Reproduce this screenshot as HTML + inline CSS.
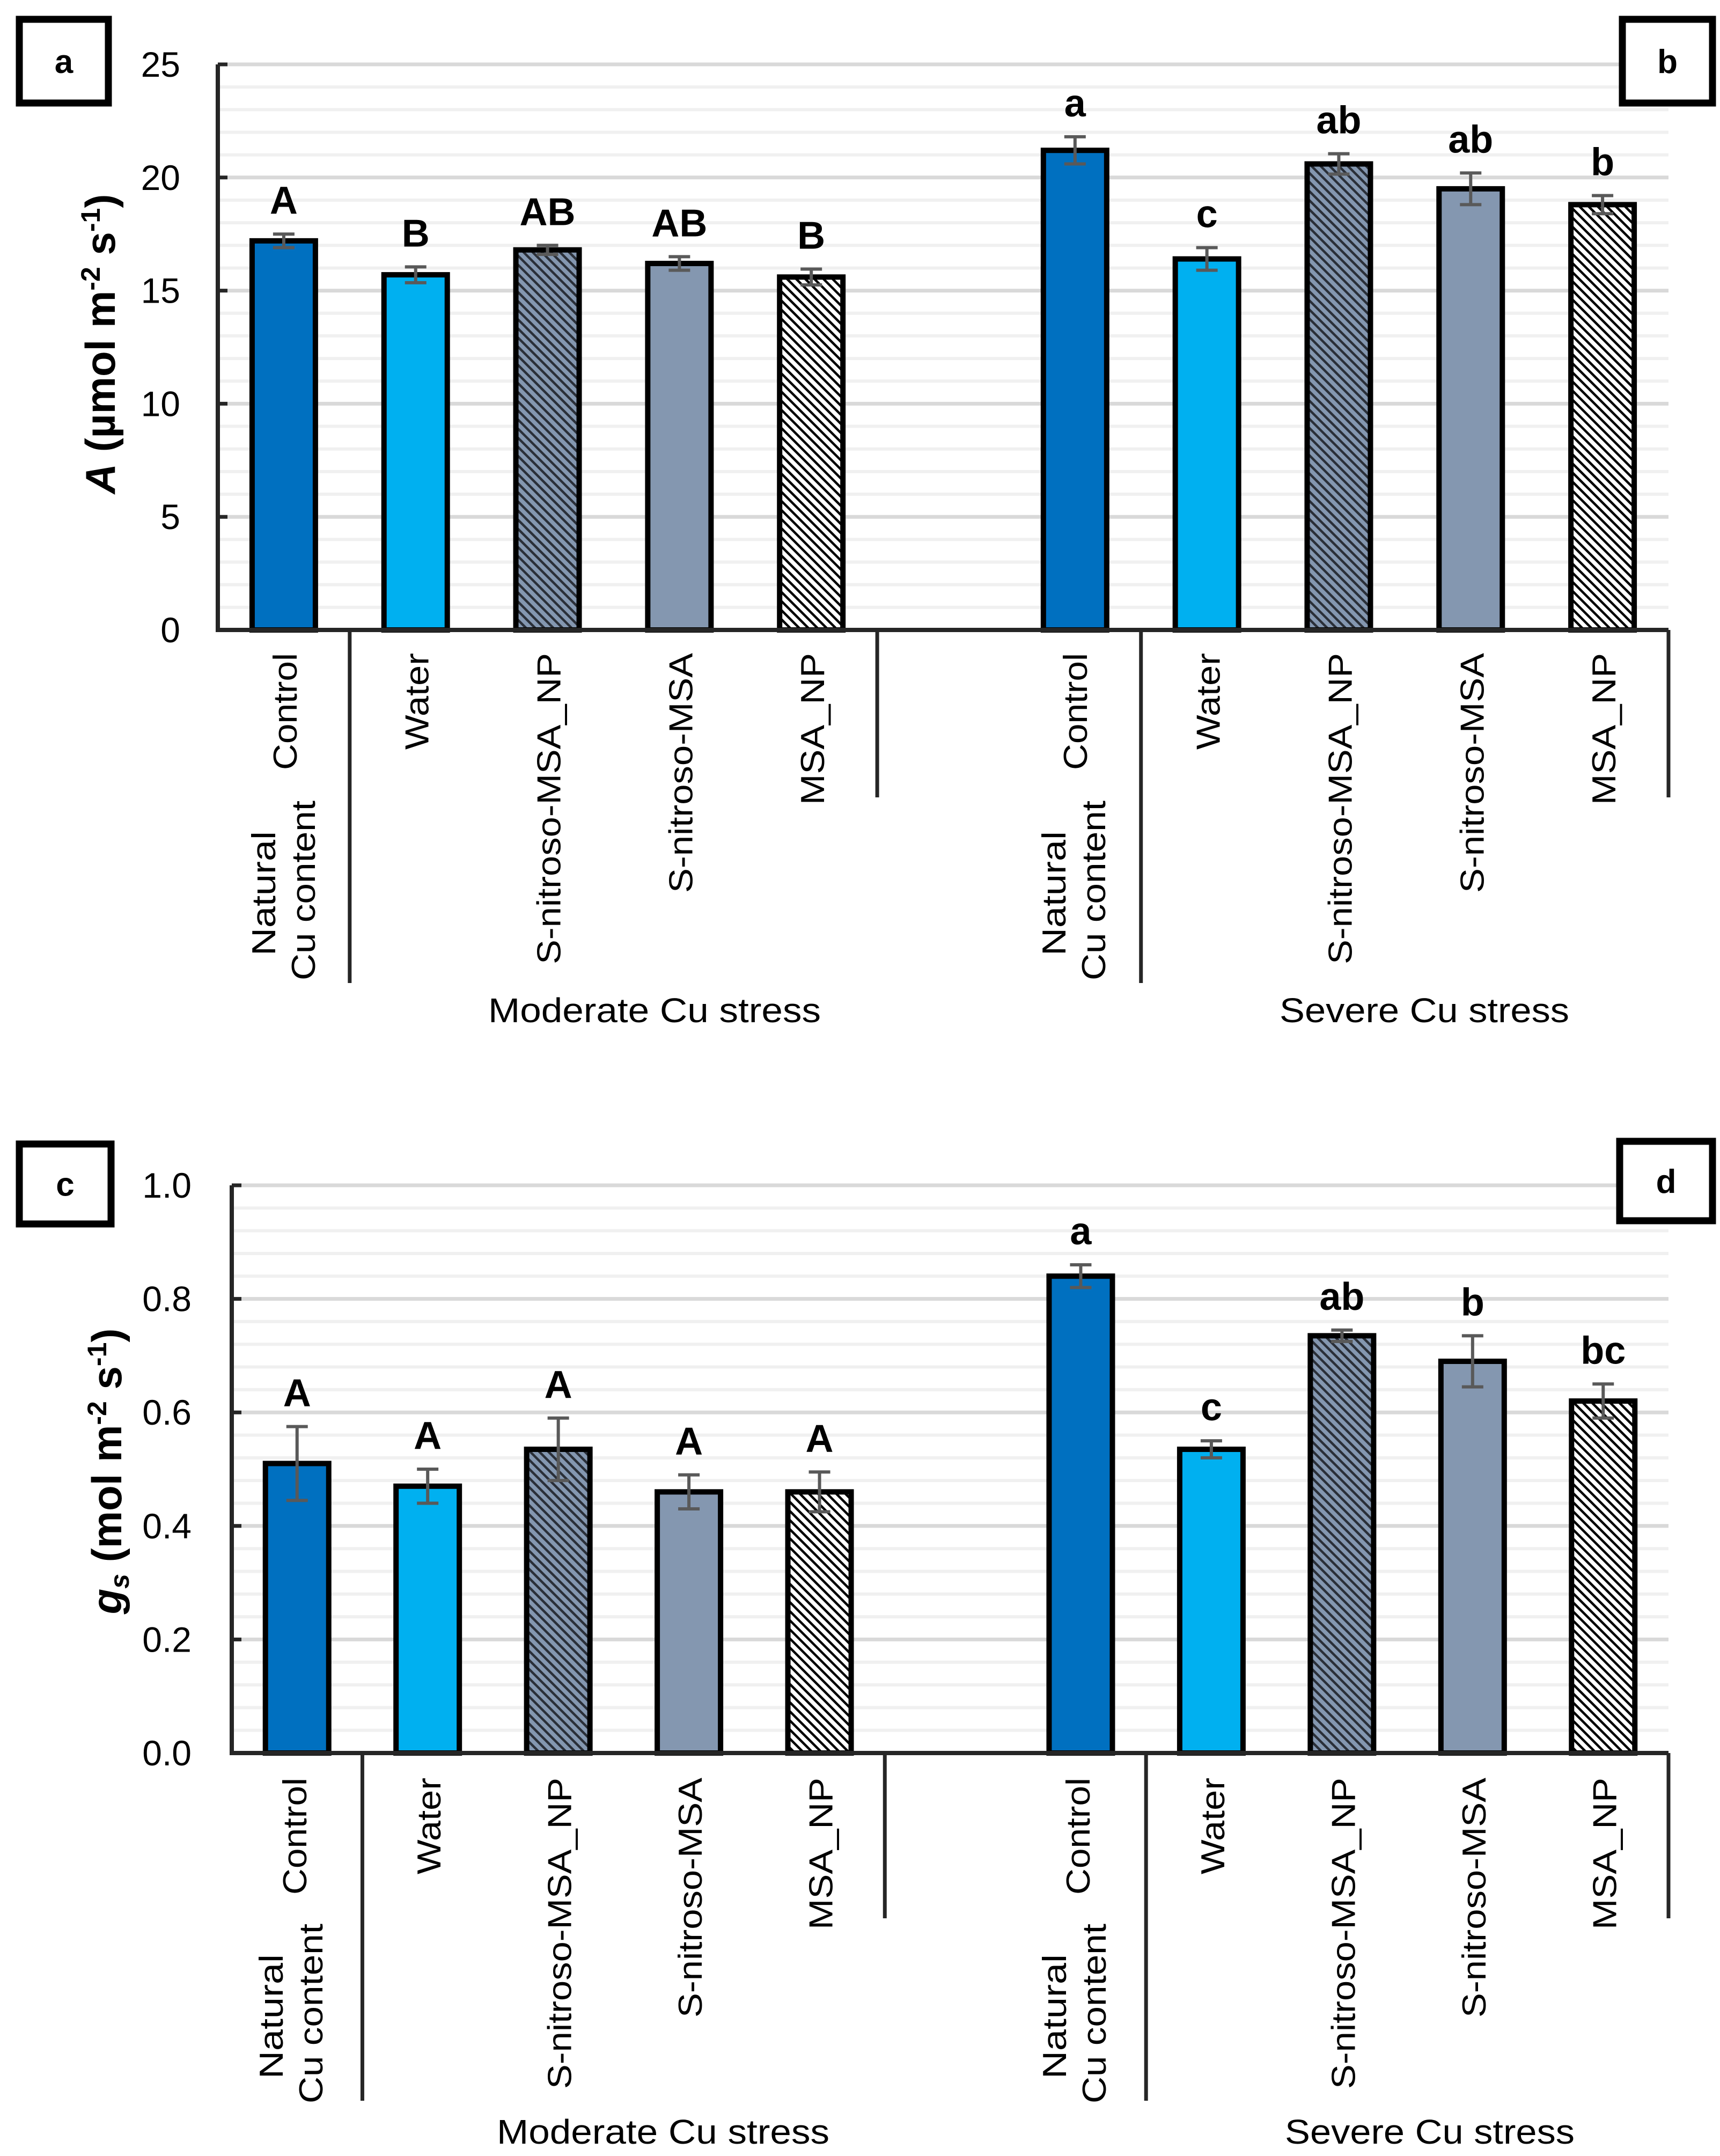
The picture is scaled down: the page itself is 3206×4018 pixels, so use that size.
<!DOCTYPE html>
<html><head><meta charset="utf-8"><style>
html,body{margin:0;padding:0;background:#fff;}
svg{display:block;}
text{font-family:"Liberation Sans",Arial,sans-serif;}
</style></head><body>
<svg id="fig" xmlns="http://www.w3.org/2000/svg" width="3206" height="4018" viewBox="0 0 3206 4018">
<defs>
<pattern id="hatchDark" patternUnits="userSpaceOnUse" width="12" height="12" patternTransform="rotate(45)">
<rect width="12" height="12" fill="#8497B0"/><rect x="0" y="0" width="12" height="4.5" fill="#2a2f38"/>
</pattern>
<pattern id="hatchWhite" patternUnits="userSpaceOnUse" width="12" height="12" patternTransform="rotate(45)">
<rect width="12" height="12" fill="#fff"/><rect x="0" y="0" width="12" height="4.5" fill="#000"/>
</pattern>
</defs>
</svg>
<script>
const categories = ["Control","Water","S-nitroso-MSA_NP","S-nitroso-MSA","MSA_NP"];
const groups = ["Moderate Cu stress","Severe Cu stress"];
const aModerate = [17.2,15.7,16.8,16.2,15.6];
const aModerateErr = [0.3,0.35,0.2,0.3,0.35];
const aSevere = [21.2,16.4,20.6,19.5,18.8];
const aSevereErr = [0.6,0.5,0.45,0.7,0.4];
const aLettersModerate = ["A","B","AB","AB","B"];
const aLettersSevere = ["a","c","ab","ab","b"];
const aTicks = ["0","5","10","15","20","25"];
const gModerate = [0.51,0.47,0.535,0.46,0.46];
const gModerateErr = [0.065,0.03,0.055,0.03,0.035];
const gSevere = [0.84,0.535,0.735,0.69,0.62];
const gSevereErr = [0.02,0.015,0.01,0.045,0.03];
const gLettersModerate = ["A","A","A","A","A"];
const gLettersSevere = ["a","c","ab","b","bc"];
const gTicks = ["0.0","0.2","0.4","0.6","0.8","1.0"];

const NS="http://www.w3.org/2000/svg";
const svg=document.getElementById('fig');
const fills=["#0070C0","#00B0F0","url(#hatchDark)","#8497B0","url(#hatchWhite)"];
function mk(tag,attrs,parent){const e=document.createElementNS(NS,tag);for(const k in attrs)e.setAttribute(k,attrs[k]);(parent||svg).appendChild(e);return e;}

function chart(o){
  const g=mk('g',{});
  
  
  const band=(o.x1-o.x0)/11;
  const y=v=>o.yZero-(v/o.max)*(o.yZero-o.yTop);
  const nMinor=Math.round(o.max/o.minor);
  for(let i=1;i<=nMinor;i++){
    const v=i*o.minor; const isMajor=Math.abs(v/o.major-Math.round(v/o.major))<1e-6;
    const l=mk('line',{x1:o.x0,x2:o.x1,y1:y(v),y2:y(v),stroke:isMajor?'#d9d9d9':'#f0f0f0','stroke-width':isMajor?7:6},g);
    
    
  }
  o.ticks.forEach((t,i)=>{
    const v=i*o.major;
    const tk=mk('line',{x1:o.x0,x2:o.x0+18,y1:y(v),y2:y(v),stroke:'#262626','stroke-width':7},g);
    
    
    const tx=mk('text',{x:o.tickX,y:y(v)+23,'font-size':66,'text-anchor':'end',fill:'#000'},g);
    tx.textContent=t;
    
    
  });
  const all=[[o.mod,o.modErr,o.modL,0],[o.sev,o.sevErr,o.sevL,6]];
  all.forEach(([vals,errs,lets,off],gi)=>{
    vals.forEach((v,i)=>{
      const cx=o.x0+band*(off+i+0.5); const w=118;
      const r=mk('rect',{x:cx-w/2,y:y(v),width:w,height:o.yZero-y(v),fill:fills[i],stroke:'#000','stroke-width':10},g);
      
      
      const e=errs[i];
      const eb=mk('path',{d:`M${cx},${y(v+e)}V${y(v-e)}M${cx-20},${y(v+e)}h40M${cx-20},${y(v-e)}h40`,stroke:'#595959','stroke-width':6,fill:'none'},g);
      
      
      const lt=mk('text',{x:cx,y:y(v+e)-38,'font-size':72,'font-weight':'bold','text-anchor':'middle'},g);
      lt.textContent=lets[i];
      
      
      const lx=cx+24;
      const lab=mk('text',{x:0,y:0,'font-size':62,'text-anchor':'end',transform:`translate(${i===0?o.ctrlX+(gi?o.sevShift:0):lx},${o.labTop}) rotate(-90)`,textLength:o.lens[i],lengthAdjust:'spacingAndGlyphs'},g);
      lab.textContent=categories[i];
      
      
      if(i===0){
        const nx=o.natX+(gi?o.sevShift:0);
        const n1=mk('text',{x:0,y:0,'font-size':62,'text-anchor':'start',transform:`translate(${nx},${o.natBot}) rotate(-90)`,textLength:232,lengthAdjust:'spacingAndGlyphs'},g);
        n1.textContent='Natural';
        
        
        const n2=mk('text',{x:0,y:0,'font-size':62,'text-anchor':'start',transform:`translate(${nx+74},${o.natBot+46}) rotate(-90)`,textLength:335,lengthAdjust:'spacingAndGlyphs'},g);
        n2.textContent='Cu content';
        
        
      }
    });
  });
  const ya=mk('line',{x1:o.x0,x2:o.x0,y1:o.yTop,y2:o.yZero,stroke:'#262626','stroke-width':8},g);
  
  
  const xa=mk('line',{x1:o.x0-4,x2:o.x1,y1:o.yZero,y2:o.yZero,stroke:'#262626','stroke-width':8},g);
  
  
  [[1,o.longY],[5,o.shortY],[7,o.longY],[11,o.shortY]].forEach(([k,yb])=>{
    const s=mk('line',{x1:o.x0+band*k,x2:o.x0+band*k,y1:o.yZero,y2:yb,stroke:'#262626','stroke-width':7},g);
    
    
  });
  groups.forEach((t,i)=>{
    const gt=mk('text',{x:o.grpX[i],y:o.grpY,'font-size':64,'text-anchor':'middle',textLength:i?540:620,lengthAdjust:'spacingAndGlyphs'},g);
    gt.textContent=t;
    
    
  });
}

chart({name:'chart-a-photosynthesis',x0:406,x1:3110,yTop:120,yZero:1174,max:25,major:5,minor:1,ticks:aTicks,tickX:336,
  mod:aModerate,modErr:aModerateErr,modL:aLettersModerate,sev:aSevere,sevErr:aSevereErr,sevL:aLettersSevere,
  labTop:1217,lens:[218,180,580,447,283],ctrlX:553,natX:513,natBot:1781,sevShift:1473,
  longY:1832,shortY:1486,grpX:[1220,2655],grpY:1905});
chart({name:'chart-c-stomatal-conductance',x0:432,x1:3110,yTop:2209,yZero:3267,max:1,major:0.2,minor:0.04,ticks:gTicks,tickX:357,
  mod:gModerate,modErr:gModerateErr,modL:gLettersModerate,sev:gSevere,sevErr:gSevereErr,sevL:gLettersSevere,
  labTop:3313,lens:[218,180,580,447,283],ctrlX:571,natX:527,natBot:3874,sevShift:1460,
  longY:3915,shortY:3575,grpX:[1236,2665],grpY:3995});

(function(){
  const t1=mk('text',{x:0,y:0,'font-size':78,'font-weight':'bold','text-anchor':'middle',transform:'translate(214,641) rotate(-90)'});
  t1.innerHTML='<tspan font-style="italic">A</tspan> (µmol m<tspan dy="-28" font-size="50">-2</tspan><tspan dy="28"> s</tspan><tspan dy="-28" font-size="50">-1</tspan><tspan dy="28">)</tspan>';
  
  
  const t2=mk('text',{x:0,y:0,'font-size':78,'font-weight':'bold','text-anchor':'middle',transform:'translate(226,2742) rotate(-90)'});
  t2.innerHTML='<tspan font-style="italic">g</tspan><tspan font-style="italic" font-size="50" dy="14">s</tspan><tspan dy="-14"> (mol m</tspan><tspan dy="-28" font-size="50">-2</tspan><tspan dy="28"> s</tspan><tspan dy="-28" font-size="50">-1</tspan><tspan dy="28">)</tspan>';
  
  
  const boxes=[['a',36,36,166,156],['b',3024,36,168,156],['c',36,2132,171,149],['d',3019,2127,173,148]];
  boxes.forEach(([l,x,yy,w,h])=>{
    const r=mk('rect',{x:x,y:yy,width:w,height:h,fill:'#fff',stroke:'#000','stroke-width':13});
    
    
    const t=mk('text',{x:x+w/2,y:yy+h/2+22,'font-size':62,'font-weight':'bold','text-anchor':'middle'});
    t.textContent=l;
    
    
  });
})();
</script>
</body></html>
